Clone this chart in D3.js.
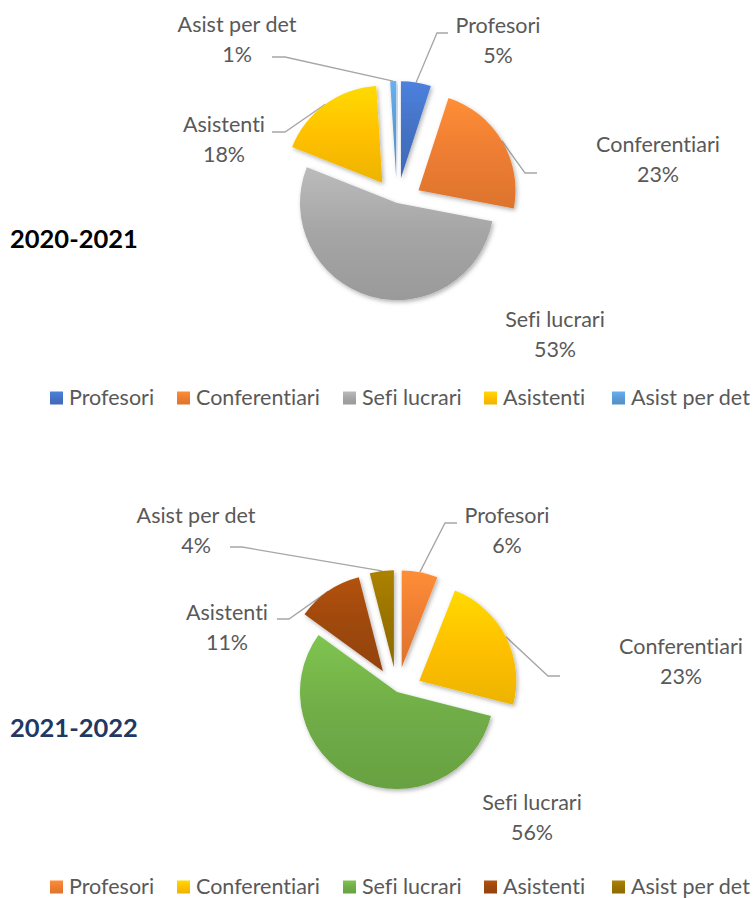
<!DOCTYPE html>
<html>
<head>
<meta charset="utf-8">
<script src="https://cdn.jsdelivr.net/npm/d3@7"></script>
<style>
  body { margin: 0; background: #fff; }
  text { font-family: Lato, "Open Sans", sans-serif; font-variant-ligatures: none; font-feature-settings: "liga" 0; }
</style>
</head>
<body>
<div id="chart"></div>
<script>
// data
const categories = ["Profesori", "Conferentiari", "Sefi lucrari", "Asistenti", "Asist per det"];
const years = ["2020-2021", "2021-2022"];
const values2020 = [5, 23, 53, 18, 1];
const values2021 = [6, 23, 56, 11, 4];
const colors2020 = ["#4472C4", "#ED7D31", "#A5A5A5", "#FFC000", "#5B9BD5"];
const colors2021 = ["#ED7D31", "#FFC000", "#70AD47", "#9E480E", "#997300"];

// layout (label centre / first baseline and leader end, relative to pie centre)
const explode = [25, 25, 0, 25, 25];
const labelPos2020 = [[101, -170], [261, -51], [158, 124], [-173, -71], [-160, -171]];
const leaderEnd2020 = [[51, -170, -11], [140, -30, -12], null, [-125, -71, 13], [-125, -146, 13]];
const labelPos2021 = [[110, -169], [284, -38], [135, 118], [-170, -72], [-201, -169]];
const leaderEnd2021 = [[60, -169, -12], [163, -16, -12], null, [-120, -73, 12], [-167, -145, 12]];
const legendX = [50, 177, 343, 484, 612];

const width = 756, height = 898;
const radius = 97;
const textColor = "#595959";

const svg = d3.select("#chart").append("svg")
    .attr("width", width)
    .attr("height", height);

svg.append("rect").attr("width", width).attr("height", height).attr("fill", "#fff");

const defs = svg.append("defs");
const shadow = defs.append("filter").attr("id", "shadow")
    .attr("x", "-20%").attr("y", "-20%").attr("width", "140%").attr("height", "140%");
shadow.append("feDropShadow")
    .attr("dx", 1.5).attr("dy", 2)
    .attr("stdDeviation", 2)
    .attr("flood-color", "#000")
    .attr("flood-opacity", 0.3);

function gradient(id, color) {
    const g = defs.append("linearGradient").attr("id", id)
        .attr("x1", 0).attr("y1", 0).attr("x2", 0).attr("y2", 1);
    g.append("stop").attr("offset", "0%").attr("stop-color", d3.color(color).brighter(0.35));
    g.append("stop").attr("offset", "50%").attr("stop-color", color);
    g.append("stop").attr("offset", "100%").attr("stop-color", d3.color(color).darker(0.2));
    return `url(#${id})`;
}

const pie = d3.pie().sort(null).value(d => d);
const arc = d3.arc().innerRadius(0).outerRadius(radius);

function drawChart(idx, values, colors, labelPos, leaderEnd, cx, cy, titleColor, legendY) {
    const fills = colors.map((c, i) => gradient(`g${idx}_${i}`, c));
    const arcs = pie(values);
    const total = d3.sum(values);

    const g = svg.append("g").attr("transform", `translate(${cx},${cy})`);

    // leader lines first, slices draw over them
    arcs.forEach((a, i) => {
        const le = leaderEnd[i];
        if (!le) return;
        const mid = (a.startAngle + a.endAngle) / 2;
        const ox = explode[i] * Math.sin(mid), oy = -explode[i] * Math.cos(mid);
        const sx = ox + radius * Math.sin(mid), sy = oy - radius * Math.cos(mid);
        g.append("polyline")
            .attr("points", [[sx, sy], [le[0] + le[2], le[1]], [le[0], le[1]]].join(" "))
            .attr("fill", "none")
            .attr("stroke", "#A6A6A6")
            .attr("stroke-width", 1.3);
    });

    g.selectAll("path.slice")
        .data(arcs)
        .enter().append("path")
        .attr("class", "slice")
        .attr("transform", (d, i) => {
            const mid = (d.startAngle + d.endAngle) / 2;
            return `translate(${explode[i] * Math.sin(mid)},${-explode[i] * Math.cos(mid)})`;
        })
        .attr("d", arc)
        .attr("fill", (d, i) => fills[i])
        .attr("filter", "url(#shadow)");

    const labels = g.selectAll("text.lbl")
        .data(arcs)
        .enter().append("text")
        .attr("class", "lbl")
        .attr("text-anchor", "middle")
        .attr("font-size", 21.5)
        .attr("fill", textColor);
    labels.append("tspan")
        .attr("x", (d, i) => labelPos[i][0])
        .attr("y", (d, i) => labelPos[i][1])
        .text((d, i) => categories[i]);
    labels.append("tspan")
        .attr("x", (d, i) => labelPos[i][0])
        .attr("y", (d, i) => labelPos[i][1] + 29.5)
        .text(d => Math.round(d.value / total * 100) + "%");

    // year title
    svg.append("text")
        .attr("x", 10)
        .attr("y", cy + 45)
        .attr("font-size", 25.5)
        .attr("font-weight", "bold")
        .attr("fill", titleColor)
        .text(years[idx]);

    // legend
    const legend = svg.append("g").attr("transform", `translate(0,${legendY})`);
    categories.forEach((c, i) => {
        legend.append("rect")
            .attr("x", legendX[i]).attr("y", -13.5)
            .attr("width", 13).attr("height", 13)
            .attr("fill", fills[i]);
        legend.append("text")
            .attr("x", legendX[i] + 19).attr("y", 0)
            .attr("font-size", 21.5)
            .attr("fill", textColor)
            .text(c);
    });
}

drawChart(0, values2020, colors2020, labelPos2020, leaderEnd2020, 397, 203, "#000000", 405);
drawChart(1, values2021, colors2021, labelPos2021, leaderEnd2021, 397, 692, "#1F3864", 894);
</script>
</body>
</html>
